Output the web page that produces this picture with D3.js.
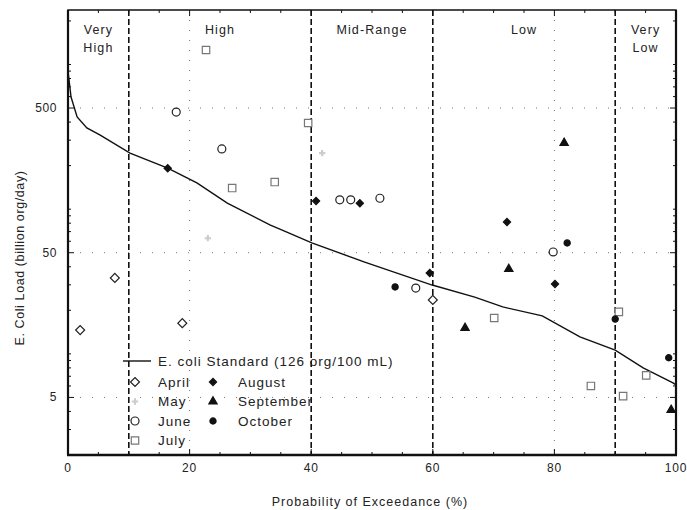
<!DOCTYPE html>
<html>
<head>
<meta charset="utf-8">
<script src="https://cdn.jsdelivr.net/npm/d3@7"></script>
<style>
  body { margin: 0; background: #fff; }
  text { font-family: "Liberation Sans", Arial, sans-serif; fill: #222; }
</style>
</head>
<body>
<script>
// load duration curve: [exceedance %, billion org/day]
var standardCurve = [
  [0, 900], [0.5, 596], [1.5, 434], [3.1, 364], [5.3, 325], [10.2, 244],
  [16.4, 192], [21.2, 152], [26.2, 110], [33.2, 78], [36.0, 69.5],
  [40.1, 58.4], [48.8, 43.1], [59.9, 29.9], [66.9, 24.7], [71.5, 21.1],
  [78.0, 18.3], [84.2, 13.1], [90.0, 10.6], [94.6, 8.0], [99.5, 6.3], [100, 6.1]
];

var april = [[2.0, 14.6], [7.7, 33.5], [18.8, 16.3], [60.0, 23.6]];
var may = [[23.0, 63], [41.8, 244]];
var june = [[17.8, 469], [25.3, 261], [44.7, 116], [46.5, 116], [51.3, 119], [57.2, 28.5], [79.8, 50.6]];
var july = [[22.7, 1259], [27.0, 140], [34.0, 154], [39.5, 394], [70.1, 17.7], [86.0, 6.0], [90.6, 19.5], [91.3, 5.1], [95.1, 7.1]];
var august = [[16.4, 192], [40.8, 114], [48.0, 110], [59.5, 36.2], [72.2, 81.5], [80.1, 30.4]];
var september = [[81.6, 287], [72.5, 38.6], [65.3, 15.1], [99.2, 4.1]];
var october = [[82.1, 58.4], [53.8, 29.0], [90.0, 17.4], [98.8, 9.4]];

var zoneBreaks = [10, 40, 60, 90];
var zoneLabels = [["Very", "High"], ["High"], ["Mid-Range"], ["Low"], ["Very", "Low"]];
var xTicks = [0, 20, 40, 60, 80, 100];
var yTicks = [5, 50, 500];
var gridX = [20, 80];

(function () {
  var W = 687, H = 510;
  var left = 68, right = 676, top = 10, bottom = 455;

  var x = d3.scaleLinear().domain([0, 100]).range([left, right]);
  var y = d3.scaleLog().domain([2, 2380]).range([bottom, top]);

  var svg = d3.select("body")
    .append("svg")
    .attr("width", W)
    .attr("height", H);

  // dotted grid
  svg.selectAll("line.gy")
    .data(yTicks)
  .enter()
    .append("line")
    .attr("class", "gy")
    .attr("x1", left).attr("x2", right)
    .attr("y1", function (d) { return y(d); })
    .attr("y2", function (d) { return y(d); })
    .style("stroke", "#777")
    .style("stroke-width", 1)
    .style("stroke-dasharray", "1,11");

  svg.selectAll("line.gx")
    .data(gridX)
  .enter()
    .append("line")
    .attr("class", "gx")
    .attr("y1", top).attr("y2", bottom)
    .attr("x1", function (d) { return x(d); })
    .attr("x2", function (d) { return x(d); })
    .style("stroke", "#777")
    .style("stroke-width", 1)
    .style("stroke-dasharray", "1,9");

  // zone dividers
  svg.selectAll("line.zone")
    .data(zoneBreaks)
  .enter()
    .append("line")
    .attr("class", "zone")
    .attr("y1", top).attr("y2", bottom)
    .attr("x1", function (d) { return x(d); })
    .attr("x2", function (d) { return x(d); })
    .style("stroke", "#111")
    .style("stroke-width", 1.6)
    .style("stroke-dasharray", "6,3");

  // zone labels
  var edges = [0].concat(zoneBreaks).concat([100]);
  zoneLabels.forEach(function (lines, i) {
    var cx = x((edges[i] + edges[i + 1]) / 2);
    var t = svg.append("text")
      .attr("x", cx)
      .attr("y", 34)
      .attr("text-anchor", "middle")
      .style("font-size", "12.5px")
      .style("letter-spacing", "1.1px");
    lines.forEach(function (s, j) {
      t.append("tspan").attr("x", cx).attr("dy", j ? 18 : 0).text(s);
    });
  });

  // frame
  svg.append("rect")
    .attr("x", left).attr("y", top)
    .attr("width", right - left).attr("height", bottom - top)
    .style("fill", "none")
    .style("stroke", "#111")
    .style("stroke-width", 1.5);
  svg.append("line")
    .attr("x1", left - 1).attr("x2", right + 1)
    .attr("y1", bottom).attr("y2", bottom)
    .style("stroke", "#111").style("stroke-width", 2.5);
  svg.append("line")
    .attr("x1", left).attr("x2", left)
    .attr("y1", top).attr("y2", bottom)
    .style("stroke", "#111").style("stroke-width", 2.2);
  svg.append("line")
    .attr("x1", right).attr("x2", right)
    .attr("y1", top).attr("y2", bottom)
    .style("stroke", "#111").style("stroke-width", 2.2);

  // minor log ticks on both vertical sides
  var minor = y.ticks(30).filter(function (d) { return d >= 2 && d <= 2380; });
  [[left, 1], [right, -1]].forEach(function (side) {
    svg.selectAll(null)
      .data(minor)
    .enter()
      .append("line")
      .attr("x1", side[0])
      .attr("x2", function (d) { return side[0] + side[1] * (yTicks.indexOf(d) >= 0 ? 6 : 3); })
      .attr("y1", function (d) { return y(d); })
      .attr("y2", function (d) { return y(d); })
      .style("stroke", "#111").style("stroke-width", 1);
  });

  // x ticks on bottom and top
  var xMinor = d3.range(0, 101, 5);
  [[bottom, -1], [top, 1]].forEach(function (side) {
    svg.selectAll(null)
      .data(xMinor)
    .enter()
      .append("line")
      .attr("x1", function (d) { return x(d); })
      .attr("x2", function (d) { return x(d); })
      .attr("y1", side[0])
      .attr("y2", function (d) { return side[0] + side[1] * (d % 20 === 0 ? 6 : 3); })
      .style("stroke", "#111").style("stroke-width", 1);
  });

  // tick labels
  svg.selectAll("text.xt")
    .data(xTicks)
  .enter()
    .append("text")
    .attr("class", "xt")
    .attr("x", function (d) { return x(d); })
    .attr("y", 472)
    .attr("text-anchor", "middle")
    .style("font-size", "12px")
    .style("letter-spacing", "0.8px")
    .text(function (d) { return d; });

  svg.selectAll("text.yt")
    .data(yTicks)
  .enter()
    .append("text")
    .attr("class", "yt")
    .attr("x", 57)
    .attr("y", function (d) { return y(d) + 4; })
    .attr("text-anchor", "end")
    .style("font-size", "12px")
    .style("letter-spacing", "0.6px")
    .text(function (d) { return d; });

  // axis titles
  svg.append("text")
    .attr("x", 370).attr("y", 506)
    .attr("text-anchor", "middle")
    .style("font-size", "12.5px")
    .style("letter-spacing", "1px")
    .text("Probability of Exceedance (%)");
  svg.append("text")
    .attr("transform", "translate(24,258) rotate(-90)")
    .attr("text-anchor", "middle")
    .style("font-size", "12.5px")
    .style("letter-spacing", "0.6px")
    .text("E. Coli Load (billion org/day)");

  // standard curve
  var line = d3.line()
    .x(function (d) { return x(d[0]); })
    .y(function (d) { return y(d[1]); });
  svg.append("path")
    .datum(standardCurve)
    .attr("d", line)
    .style("fill", "none")
    .style("stroke", "#111")
    .style("stroke-width", 1.4);

  // series (rot: 45 turns a square into an even diamond)
  var series = [
    { name: "April", data: april, type: d3.symbolSquare, rot: 45, size: 40, fill: "#fff", stroke: "#222" },
    { name: "May", data: may, type: d3.symbolCross, rot: 0, size: 22, fill: "#ccc", stroke: "none" },
    { name: "June", data: june, type: d3.symbolCircle, rot: 0, size: 50, fill: "#fff", stroke: "#222" },
    { name: "July", data: july, type: d3.symbolSquare, rot: 0, size: 55, fill: "#fff", stroke: "#777" },
    { name: "August", data: august, type: d3.symbolSquare, rot: 45, size: 26, fill: "#111", stroke: "#111" },
    { name: "September", data: september, type: d3.symbolTriangle, rot: 0, size: 30, fill: "#111", stroke: "#111" },
    { name: "October", data: october, type: d3.symbolCircle, rot: 0, size: 30, fill: "#111", stroke: "#111" }
  ];
  var sym = d3.symbol();

  series.forEach(function (s) {
    svg.selectAll(null)
      .data(s.data)
    .enter()
      .append("path")
      .attr("d", sym.type(s.type).size(s.size)())
      .attr("transform", function (d) {
        return "translate(" + x(d[0]) + "," + y(d[1]) + ") rotate(" + s.rot + ")";
      })
      .style("fill", s.fill)
      .style("stroke", s.stroke)
      .style("stroke-width", 1.2);
  });

  // legend
  var lg = svg.append("g");
  lg.append("line")
    .attr("x1", 123).attr("x2", 151)
    .attr("y1", 361).attr("y2", 361)
    .style("stroke", "#111").style("stroke-width", 1.4);
  lg.append("text")
    .attr("x", 158).attr("y", 365.5)
    .style("font-size", "13.5px")
    .style("letter-spacing", "1px")
    .text("E. coli Standard (126 org/100 mL)");

  var cols = [[series[0], series[1], series[2], series[3]], [series[4], series[5], series[6]]];
  var colX = [[135, 158], [213, 238]];
  cols.forEach(function (col, ci) {
    col.forEach(function (s, ri) {
      var yy = 382 + ri * 19.5;
      lg.append("path")
        .attr("d", sym.type(s.type).size(s.size)())
        .attr("transform", "translate(" + colX[ci][0] + "," + yy + ") rotate(" + s.rot + ")")
        .style("fill", s.fill)
        .style("stroke", s.stroke)
        .style("stroke-width", 1.2);
      lg.append("text")
        .attr("x", colX[ci][1]).attr("y", yy + 4.5)
        .style("font-size", "13.5px")
        .style("letter-spacing", "1px")
        .text(s.name);
    });
  });
})();
</script>
</body>
</html>
